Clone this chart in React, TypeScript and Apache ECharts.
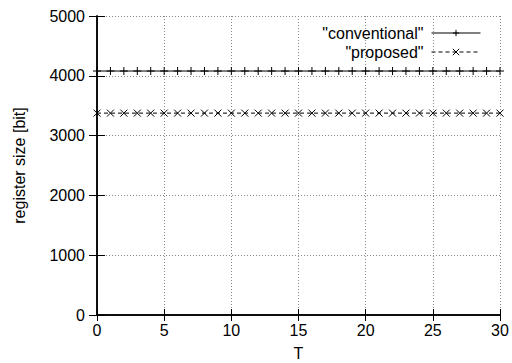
import React, { useEffect, useRef } from "react";
import * as echarts from "echarts";

const T = [0, 1, 2, 3, 4, 5, 6, 7, 8, 9, 10, 11, 12, 13, 14, 15, 16, 17, 18, 19, 20, 21, 22, 23, 24, 25, 26, 27, 28, 29, 30];
const conventional = [4080, 4080, 4080, 4080, 4080, 4080, 4080, 4080, 4080, 4080, 4080, 4080, 4080, 4080, 4080, 4080, 4080, 4080, 4080, 4080, 4080, 4080, 4080, 4080, 4080, 4080, 4080, 4080, 4080, 4080, 4080];
const proposed = [3376, 3376, 3376, 3376, 3376, 3376, 3376, 3376, 3376, 3376, 3376, 3376, 3376, 3376, 3376, 3376, 3376, 3376, 3376, 3376, 3376, 3376, 3376, 3376, 3376, 3376, 3376, 3376, 3376, 3376, 3376];
const xTicks = [0, 5, 10, 15, 20, 25, 30];
const yTicks = [0, 1000, 2000, 3000, 4000, 5000];

const FONT = "Liberation Sans";
const FS = 16;
const PLUS = "path://M5,0L5,10M0,5L10,5";
const CROSS = "path://M0,0L10,10M10,0L0,10";

export default function App() {
  const ref = useRef<HTMLDivElement>(null);
  useEffect(() => {
    const chart = echarts.init(ref.current!, null, { renderer: "svg" });
    const tickCommon = { show: true, inside: true, length: 6, lineStyle: { color: "#000", width: 1 } };
    const legendCommon = {
      right: 31,
      align: "right",
      itemWidth: 49,
      itemHeight: 8,
      itemGap: 10,
      padding: 0,
      lineStyle: { width: 1 },
      itemStyle: { borderWidth: 1 },
      textStyle: { fontFamily: FONT, fontSize: FS, color: "#000", padding: [0, 3, 0, 0] },
    };
    chart.setOption({
      animation: false,
      backgroundColor: "#fff",
      grid: { left: 97, right: 12, top: 16, bottom: 48, containLabel: false, outerBoundsMode: "none" },
      legend: [
        { ...legendCommon, data: ["\"conventional\""], top: 25 },
        { ...legendCommon, data: ["\"proposed\""], top: 44 },
      ],
      xAxis: [
        {
          type: "value",
          min: xTicks[0],
          max: xTicks[xTicks.length - 1],
          interval: 5,
          name: "T",
          nameLocation: "middle",
          nameGap: 30,
          nameTextStyle: { fontFamily: FONT, fontSize: FS, color: "#000" },
          axisLine: { show: true, lineStyle: { color: "#000", width: 1.5 } },
          axisTick: tickCommon,
          axisLabel: { fontFamily: FONT, fontSize: FS, color: "#000", margin: 7 },
          splitLine: { show: true, lineStyle: { color: "#888", type: [1, 2], width: 1 } },
        },
        {
          type: "value",
          position: "top",
          min: 0,
          max: 30,
          interval: 5,
          axisLine: { show: true, lineStyle: { color: "#000", width: 1.5 } },
          axisTick: tickCommon,
          axisLabel: { show: false },
          splitLine: { show: false },
        },
      ],
      yAxis: [
        {
          type: "value",
          min: yTicks[0],
          max: yTicks[yTicks.length - 1],
          interval: 1000,
          name: "register size [bit]",
          nameLocation: "middle",
          nameGap: 70,
          nameTextStyle: { fontFamily: FONT, fontSize: FS, color: "#000" },
          axisLine: { show: true, lineStyle: { color: "#000", width: 1.5 } },
          axisTick: { ...tickCommon, length: 8 },
          axisLabel: {
            fontFamily: FONT,
            fontSize: FS,
            color: "#000",
            margin: 12,
            formatter: (v: number) => String(v),
          },
          splitLine: { show: true, lineStyle: { color: "#888", type: [1, 2], width: 1 } },
        },
        {
          type: "value",
          position: "right",
          min: 0,
          max: 5000,
          interval: 1000,
          axisLine: { show: true, lineStyle: { color: "#000", width: 1.5 } },
          axisTick: { ...tickCommon, length: 8 },
          axisLabel: { show: false },
          splitLine: { show: false },
        },
      ],
      series: [
        {
          name: "\"conventional\"",
          type: "line",
          data: T.map((t, i) => [t, conventional[i]]),
          symbol: PLUS,
          symbolSize: 8,
          showAllSymbol: true,
          lineStyle: { color: "#000", width: 1, type: "solid" },
          itemStyle: { color: "none", borderColor: "#000", borderWidth: 1 },
          clip: false,
          z: 5,
        },
        {
          name: "\"proposed\"",
          type: "line",
          data: T.map((t, i) => [t, proposed[i]]),
          symbol: CROSS,
          symbolSize: 7,
          showAllSymbol: true,
          lineStyle: { color: "#000", width: 1, type: [4, 3] },
          itemStyle: { color: "none", borderColor: "#000", borderWidth: 1 },
          clip: false,
          z: 5,
        },
      ],
    });
    return () => chart.dispose();
  }, []);
  return <div ref={ref} style={{ width: 512, height: 363, position: "absolute", left: 0, top: 0 }} />;
}
